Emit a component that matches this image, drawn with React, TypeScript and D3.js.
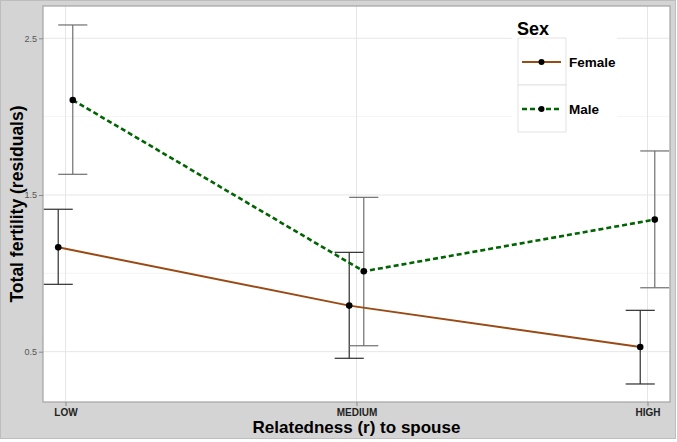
import React, { useRef, useEffect } from "react";
import * as d3 from "d3";

// relatedness categories on the x axis
const categories = ["LOW", "MEDIUM", "HIGH"];
const sexes = ["Female", "Male"];

// total fertility residuals, mean and error bar ends
const femaleMean = [1.166, 0.794, 0.53];
const femaleLower = [0.93, 0.458, 0.294];
const femaleUpper = [1.409, 1.134, 0.764];

const maleMean = [2.106, 1.013, 1.343];
const maleLower = [1.632, 0.538, 0.908];
const maleUpper = [2.585, 1.485, 1.781];

const yMajorTicks = [0.5, 1.5, 2.5];
const yMinorTicks = [1.0, 2.0];

const App = () => {
  const svgRef = useRef<SVGSVGElement | null>(null);

  useEffect(() => {
    const svg = d3.select(svgRef.current);
    svg.selectAll("*").remove();

    const W = 677;
    const H = 442;
    const panel = { left: 43, right: 670, top: 6, bottom: 402 };
    const font = "'Liberation Sans', Arial, sans-serif";

    const x = d3.scalePoint<string>()
      .domain(categories)
      .range([panel.left, panel.right])
      .padding(0.0773);

    const y = d3.scaleLinear()
      .domain([0.179, 2.706])
      .range([panel.bottom, panel.top]);

    const step = x.step();
    const dodge = step * 0.025;
    const capHalf = step * 0.05;

    // outer background
    svg.append("rect")
      .attr("x", 0.5).attr("y", 0.5)
      .attr("width", W - 2).attr("height", H - 4)
      .attr("fill", "#d4d4d4")
      .attr("stroke", "#bdbdbd");

    svg.append("rect")
      .attr("x", panel.left).attr("y", panel.top)
      .attr("width", panel.right - panel.left)
      .attr("height", panel.bottom - panel.top)
      .attr("fill", "#fff");

    // grid
    svg.selectAll(".minor")
      .data(yMinorTicks)
      .enter()
      .append("line")
      .attr("x1", panel.left).attr("x2", panel.right)
      .attr("y1", (d) => y(d)).attr("y2", (d) => y(d))
      .attr("stroke", "#f4f4f4").attr("stroke-width", 1);

    svg.selectAll(".major")
      .data(yMajorTicks)
      .enter()
      .append("line")
      .attr("x1", panel.left).attr("x2", panel.right)
      .attr("y1", (d) => y(d)).attr("y2", (d) => y(d))
      .attr("stroke", "#e6e6e6").attr("stroke-width", 1);

    svg.selectAll(".vgrid")
      .data(categories)
      .enter()
      .append("line")
      .attr("x1", (d) => x(d)!).attr("x2", (d) => x(d)!)
      .attr("y1", panel.top).attr("y2", panel.bottom)
      .attr("stroke", "#e6e6e6").attr("stroke-width", 1);

    const series = [
      { name: "Female", mean: femaleMean, lo: femaleLower, hi: femaleUpper, off: -dodge,
        color: "#9a4a14", dash: null as string | null, width: 2, bar: "#2e2e2e" },
      { name: "Male", mean: maleMean, lo: maleLower, hi: maleUpper, off: dodge,
        color: "#006400", dash: "5,3", width: 2.6, bar: "#6f6f6f" },
    ];

    const plot = svg.append("g");

    series.forEach((s) => {
      const pts = categories.map((c, i) => ({
        cx: x(c)! + s.off, m: s.mean[i], lo: s.lo[i], hi: s.hi[i],
      }));

      const bars = plot.append("g")
        .attr("stroke", s.bar)
        .attr("stroke-width", 1.2)
        .attr("fill", "none");
      pts.forEach((p) => {
        bars.append("line")
          .attr("x1", p.cx).attr("x2", p.cx)
          .attr("y1", y(p.lo)).attr("y2", y(p.hi));
        bars.append("line")
          .attr("x1", p.cx - capHalf).attr("x2", p.cx + capHalf)
          .attr("y1", y(p.lo)).attr("y2", y(p.lo));
        bars.append("line")
          .attr("x1", p.cx - capHalf).attr("x2", p.cx + capHalf)
          .attr("y1", y(p.hi)).attr("y2", y(p.hi));
      });
    });

    series.forEach((s) => {
      const pts = categories.map((c, i) => [x(c)! + s.off, y(s.mean[i])] as [number, number]);
      plot.append("path")
        .attr("d", d3.line()(pts))
        .attr("fill", "none")
        .attr("stroke", s.color)
        .attr("stroke-width", s.width)
        .attr("stroke-dasharray", s.dash);
      plot.selectAll(null)
        .data(pts)
        .enter()
        .append("circle")
        .attr("cx", (d) => d[0]).attr("cy", (d) => d[1])
        .attr("r", 3.3)
        .attr("fill", "#000");
    });

    // legend
    const lg = svg.append("g");
    lg.append("rect")
      .attr("x", 512).attr("y", 9)
      .attr("width", 105).attr("height", 131)
      .attr("fill", "#fff");
    lg.append("text")
      .attr("x", 517).attr("y", 35)
      .attr("font-family", font).attr("font-weight", "bold")
      .attr("font-size", 18).attr("fill", "#000")
      .text("Sex");
    series.forEach((s, i) => {
      const top = 38 + i * 47;
      const cy = top + 24;
      lg.append("rect")
        .attr("x", 518).attr("y", top)
        .attr("width", 48).attr("height", 47)
        .attr("fill", "#fff").attr("stroke", "#dcdcdc").attr("stroke-width", 0.8);
      lg.append("line")
        .attr("x1", 522).attr("x2", 561)
        .attr("y1", cy).attr("y2", cy)
        .attr("stroke", s.color).attr("stroke-width", s.width)
        .attr("stroke-dasharray", s.dash);
      lg.append("circle")
        .attr("cx", 541.5).attr("cy", cy).attr("r", 3)
        .attr("fill", "#000");
      lg.append("text")
        .attr("x", 569).attr("y", cy + 5)
        .attr("font-family", font).attr("font-weight", "bold")
        .attr("font-size", 13.5).attr("fill", "#000")
        .text(sexes[i]);
    });

    // panel border
    svg.append("rect")
      .attr("x", panel.left).attr("y", panel.top)
      .attr("width", panel.right - panel.left)
      .attr("height", panel.bottom - panel.top)
      .attr("fill", "none")
      .attr("stroke", "#a3a3a3").attr("stroke-width", 1.2);

    // axis titles
    svg.append("text")
      .attr("x", (panel.left + panel.right) / 2).attr("y", 433)
      .attr("text-anchor", "middle")
      .attr("font-family", font).attr("font-weight", "bold")
      .attr("font-size", 17).attr("fill", "#000")
      .text("Relatedness (r) to spouse");

    svg.append("text")
      .attr("transform", `translate(23,${(panel.top + panel.bottom) / 2}) rotate(-90)`)
      .attr("text-anchor", "middle")
      .attr("font-family", font).attr("font-weight", "bold")
      .attr("font-size", 17.5).attr("fill", "#000")
      .text("Total fertility (residuals)");

    // axes
    const yAxis = svg.append("g")
      .attr("transform", `translate(${panel.left},0)`)
      .call(d3.axisLeft(y).tickValues(yMajorTicks).tickFormat(d3.format(".1f")).tickSize(4).tickPadding(2));
    yAxis.select(".domain").remove();
    yAxis.selectAll("line").attr("stroke", "#8a8a8a");
    yAxis.selectAll("text")
      .attr("font-family", font).attr("font-size", 9).attr("fill", "#555");

    const xAxis = svg.append("g")
      .attr("transform", `translate(0,${panel.bottom})`)
      .call(d3.axisBottom(x).tickSize(4).tickPadding(3));
    xAxis.select(".domain").remove();
    xAxis.selectAll("line").attr("stroke", "#8a8a8a");
    xAxis.selectAll("text")
      .attr("font-family", "'Liberation Sans Narrow', 'Liberation Sans', sans-serif")
      .attr("font-weight", "bold")
      .attr("font-size", 10).attr("fill", "#222");

    return () => {};
  }, []);

  return (
    <svg ref={svgRef} width={677} height={442}
      style={{ position: "absolute", left: 0, top: 0, background: "#fff" }} />
  );
};

export default App;
